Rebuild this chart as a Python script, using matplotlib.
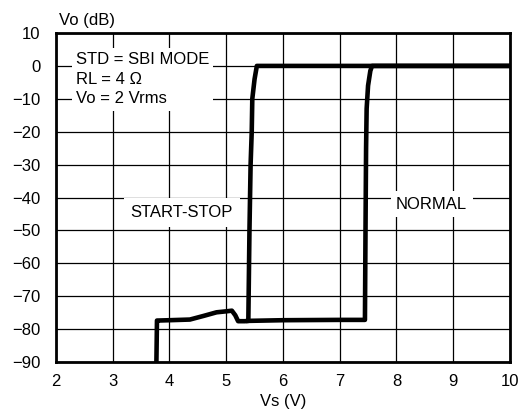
import matplotlib
matplotlib.use("Agg")
import matplotlib.pyplot as plt

plt.rcParams['font.family'] = ['Liberation Sans', 'DejaVu Sans']

# START-STOP curve (Vs in V, Vo in dB)
ss_vs = [3.77, 3.78, 3.80, 4.00, 4.36, 4.60, 4.83, 5.00, 5.10, 5.16, 5.21, 5.33, 5.39, 5.41, 5.43, 5.45, 5.46, 5.50, 5.54, 5.60, 10.0]
ss_vo = [-90, -77.4, -77.4, -77.3, -77.1, -76.0, -74.9, -74.6, -74.4, -75.8, -77.6, -77.6, -77.5, -50, -30, -20, -10, -4, 0, 0, 0]

# NORMAL curve
nm_vs = [5.39, 6.00, 7.00, 7.445, 7.455, 7.465, 7.475, 7.50, 7.54, 7.57, 10.0]
nm_vo = [-77.5, -77.3, -77.2, -77.2, -50, -25, -13, -6, -1.5, 0, 0]

x_ticks = [2, 3, 4, 5, 6, 7, 8, 9, 10]
y_ticks = [10, 0, -10, -20, -30, -40, -50, -60, -70, -80, -90]

fig = plt.figure(figsize=(5.23, 4.18), dpi=100)
ax = fig.add_axes([0.107, 0.134, 0.868, 0.787])

ax.plot(ss_vs, ss_vo, color='black', lw=3.3, solid_joinstyle='round', zorder=3)
ax.plot(nm_vs, nm_vo, color='black', lw=3.3, solid_joinstyle='round', zorder=3)

ax.set_xlim(2, 10)
ax.set_ylim(-90, 10)
ax.set_xticks(x_ticks)
ax.set_yticks(y_ticks)
ax.tick_params(length=0, labelsize=12)
ax.tick_params(axis='y', pad=11)
ax.tick_params(axis='x', pad=9)
ax.grid(True, color='black', lw=0.9)
for s in ax.spines.values():
    s.set_linewidth(2)

ax.set_xlabel('Vs (V)', fontsize=12, labelpad=3)
ax.text(0.006, 1.015, 'Vo (dB)', transform=ax.transAxes, fontsize=12, ha='left', va='bottom')

box = dict(facecolor='white', edgecolor='none', pad=3)
ax.text(2.35, 4.3, 'STD = SBI MODE\nRL = 4 Ω\nVo = 2 Vrms', fontsize=12, ha='left', va='top',
        linespacing=1.4, bbox=box, zorder=4)
ax.text(4.22, -44.6, 'START-STOP', fontsize=12, ha='center', va='center',
        bbox=dict(facecolor='white', edgecolor='none', pad=5), zorder=4)
ax.text(8.62, -42.0, 'NORMAL', fontsize=12, ha='center', va='center',
        bbox=dict(facecolor='white', edgecolor='none', pad=4), zorder=4)

fig.savefig('out.png', dpi=100)
